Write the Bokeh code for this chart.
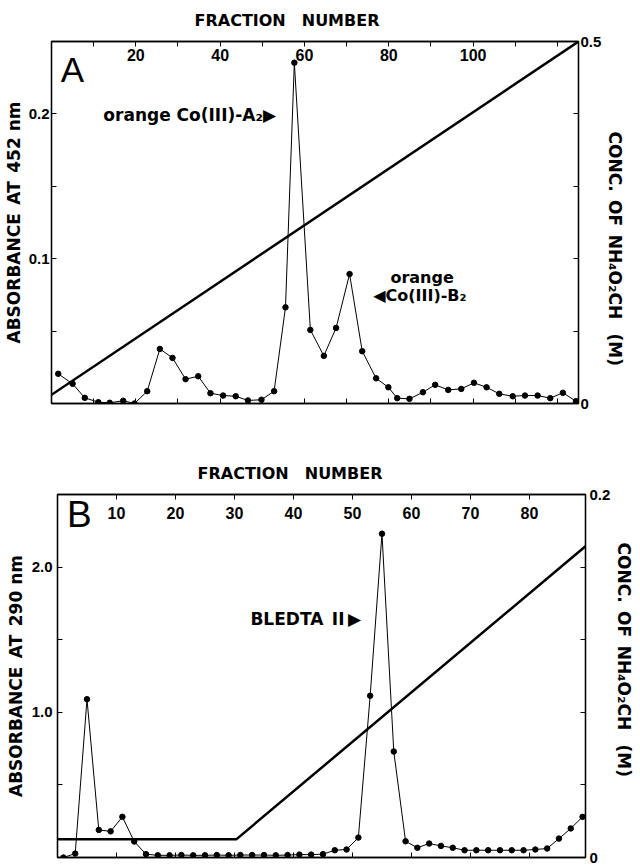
from bokeh.plotting import figure
from bokeh.models import Range1d, LinearAxis, FixedTicker, Label, Title
from bokeh.embed import file_html
from bokeh.resources import INLINE

# ---------------- Panel A data ----------------
frac_a = [1.6, 5.0, 7.9, 11.1, 13.8, 17.0, 19.7, 22.7, 25.7, 28.7,
          31.8, 34.8, 37.7, 40.7, 43.7, 46.6, 49.8, 52.8, 55.5, 57.6,
          61.4, 64.6, 67.5, 70.7, 73.7, 77.0, 79.9, 82.0, 84.9, 88.1,
          91.0, 94.1, 97.2, 100.2, 103.2, 106.2, 109.4, 112.3, 115.3, 118.3,
          121.3, 124.4]
abs_a = [0.0205, 0.0136, 0.0039, 0.0009, 0.0005, 0.0019, 0.0, 0.0085, 0.0377, 0.0315,
         0.0168, 0.0188, 0.0071, 0.0055, 0.0050, 0.0021, 0.0026, 0.0085, 0.0664, 0.2354,
         0.0508, 0.0329, 0.0522, 0.0894, 0.0361, 0.0174, 0.0112, 0.0037, 0.0032, 0.0078,
         0.0129, 0.0094, 0.0101, 0.0143, 0.0112, 0.0067, 0.0050, 0.0055, 0.0055, 0.0037,
         0.0074, 0.0016]
grad_a_frac = [0, 125]
grad_a_conc = [0.012, 0.5]

top_ticks_a = [20, 40, 60, 80, 100]
top_minor_a = [10, 30, 50, 70, 90, 110, 120]
bottom_ticks_a = [10, 20, 30, 40, 50, 60, 70, 80, 90, 100, 110, 120]
left_ticks_a = [0.1, 0.2]
left_minor_a = [0.05, 0.15]
right_ticks_a = [0, 0.5]
right_minor_a = [0.1, 0.2, 0.3, 0.4]

# ---------------- Panel B data ----------------
frac_b = [1, 3, 5, 7, 9, 11, 13, 15, 17, 19, 21, 23, 25, 27, 29, 31, 33, 35, 37, 39,
          41, 43, 45, 47, 49, 51, 53, 55, 57, 59, 61, 63, 65, 67, 69, 71, 73, 75, 77, 79,
          81, 83, 85, 87, 89]
abs_b = [0.0, 0.027, 1.09, 0.19, 0.18, 0.28, 0.11, 0.023, 0.015, 0.015,
         0.017, 0.015, 0.015, 0.017, 0.015, 0.017, 0.017, 0.017, 0.015, 0.017,
         0.02, 0.02, 0.023, 0.05, 0.055, 0.137, 1.114, 2.23, 0.73, 0.112,
         0.067, 0.096, 0.08, 0.067, 0.05, 0.05, 0.05, 0.05, 0.05, 0.05,
         0.055, 0.062, 0.13, 0.2, 0.28]
grad_b_frac = [0, 30.3, 89.5]
grad_b_conc = [0.01, 0.01, 0.1715]

top_ticks_b = [10, 20, 30, 40, 50, 60, 70, 80]
bottom_ticks_b = [10, 20, 30, 40, 50, 60, 70, 80]
left_ticks_b = [1.0, 2.0]
left_minor_b = [0.5, 1.5]
right_ticks_b = [0, 0.2]
right_minor_b = [0.04, 0.08, 0.12, 0.16]

TITLE_X = "FRACTION\u2003NUMBER"
TITLE_R = "CONC.\u2002OF\u2002NH\u2084O\u2082CH\u2002 (M)"

FONT = "Liberation Sans"
LFONT = "DejaVu Sans"


def style_axis(ax, size="15px"):
    ax.axis_line_color = "black"
    ax.axis_line_width = 1.3
    ax.major_tick_in = 5
    ax.major_tick_out = 0
    ax.minor_tick_in = 5
    ax.minor_tick_out = 0
    ax.major_tick_line_color = "black"
    ax.minor_tick_line_color = "black"
    ax.major_label_text_font = FONT
    ax.major_label_text_font_style = "bold"
    ax.major_label_text_font_size = size
    ax.major_label_text_color = "black"
    ax.axis_label_text_font = LFONT
    ax.axis_label_text_font_style = "bold"
    ax.axis_label_text_font_size = "17px"
    ax.axis_label_text_color = "black"


def txt(x, y, text, size, font=LFONT, style="bold", align="left"):
    return Label(x=x, y=y, text=text, text_font=font, text_font_style=style,
                 text_font_size=size, text_align=align, text_baseline="middle",
                 text_color="black")


def make_panel(height, xr, yr, cr, borders, top_ticks, top_minor, bot_ticks,
               left_ticks, left_minor, left_over, right_ticks, right_minor, right_over,
               left_label, stand, top_off, right_off):
    bl, br, bt, bb = borders
    top_so, left_so, left_lab_so, right_so = stand
    p = figure(width=640, height=height, x_range=Range1d(*xr), y_range=Range1d(*yr),
               output_backend="svg", toolbar_location=None,
               x_axis_location=None, y_axis_location=None,
               min_border_left=bl, min_border_right=br, min_border_top=bt, min_border_bottom=bb)
    p.extra_y_ranges = {"conc": Range1d(*cr)}
    p.xgrid.visible = False
    p.ygrid.visible = False
    p.outline_line_color = "black"
    p.outline_line_width = 1.3
    p.background_fill_color = "white"
    p.border_fill_color = "white"

    top = LinearAxis(ticker=FixedTicker(ticks=top_ticks, minor_ticks=top_minor))
    style_axis(top, "16px")
    top.major_label_standoff = top_so
    p.add_layout(top, "above")

    # top axis title, shifted like the original
    p.title.text = TITLE_X
    p.title.align = "left"
    p.title.vertical_align = "top"
    p.title.offset = top_off
    p.title.standoff = 20
    p.title.text_font = LFONT
    p.title.text_font_style = "bold"
    p.title.text_font_size = "16px"
    p.title.text_color = "black"

    bot = LinearAxis(ticker=FixedTicker(ticks=[], minor_ticks=bot_ticks))
    style_axis(bot)
    bot.major_label_standoff = 0
    p.add_layout(bot, "below")

    left = LinearAxis(ticker=FixedTicker(ticks=left_ticks, minor_ticks=left_minor),
                      axis_label=left_label, major_label_overrides=left_over)
    style_axis(left)
    left.major_label_standoff = left_so
    left.axis_label_standoff = left_lab_so
    p.add_layout(left, "left")

    right = LinearAxis(y_range_name="conc",
                       ticker=FixedTicker(ticks=right_ticks, minor_ticks=right_minor),
                       major_label_overrides=right_over)
    style_axis(right)
    right.major_label_standoff = right_so
    p.add_layout(right, "right")
    p.add_layout(Title(text=TITLE_R, align="left", offset=right_off, standoff=0,
                       text_font=LFONT, text_font_style="bold", text_font_size="17px",
                       text_color="black"), "right")
    return p


# ---------------- Panel A ----------------
pa = make_panel(435, (0, 125), (0, 0.25), (0, 0.5), (50, 62, 40, 32),
                top_ticks_a, top_minor_a, bottom_ticks_a,
                left_ticks_a, left_minor_a, {0.1: "0.1", 0.2: "0.2"},
                right_ticks_a, right_minor_a, {0: "0", 0.5: "0.5"},
                "ABSORBANCE\u2002AT\u2002452 nm", (-19, 2, 2, 2), 143, 90)
pa.line(grad_a_frac, grad_a_conc, y_range_name="conc", line_color="black", line_width=2.5)
pa.line(frac_a, abs_a, line_color="black", line_width=1)
pa.scatter(frac_a, abs_a, size=5.5, color="black")

pa.add_layout(txt(2.2, 0.231, "A", "35px", font=FONT, style="normal"))
pa.add_layout(txt(12.3, 0.199, "orange Co(III)-A\u2082\u25B6", "17px"))
pa.add_layout(txt(87.9, 0.0869, "orange", "16px", align="center"))
pa.add_layout(txt(76.3, 0.0745, "\u25C0Co(III)-B\u2082", "16px"))

# ---------------- Panel B ----------------
pb = make_panel(430, (0, 89.5), (0, 2.5), (0, 0.2), (57, 55, 59, 8),
                top_ticks_b, [], bottom_ticks_b,
                left_ticks_b, left_minor_b, {1: "1.0", 2: "2.0"},
                right_ticks_b, right_minor_b, {0: "0", 0.2: "0.2"},
                "ABSORBANCE\u2002AT\u2002290 nm", (-24, 5, 3, 4), 140, 48)
pb.line(grad_b_frac, grad_b_conc, y_range_name="conc", line_color="black", line_width=2.5)
pb.line(frac_b, abs_b, line_color="black", line_width=1)
pb.scatter(frac_b, abs_b, size=5.5, color="black")

pb.add_layout(txt(1.6, 2.36, "B", "37px", font=FONT, style="normal"))
pb.add_layout(txt(32.7, 1.64, "BLEDTA\u2002II\u2009\u25B6", "17px"))

# two separate roots so the two frames are not aligned to each other
open("out.html", "w").write(file_html([pa, pb], INLINE))
